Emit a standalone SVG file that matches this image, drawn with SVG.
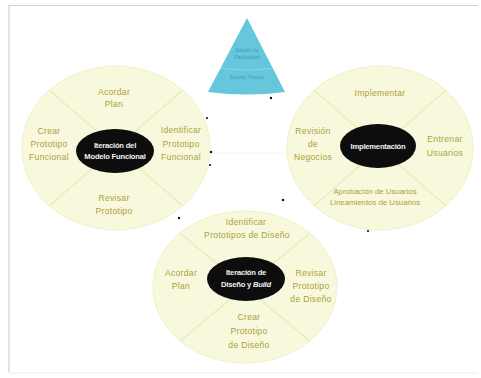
<svg xmlns="http://www.w3.org/2000/svg" width="481" height="378" viewBox="0 0 481 378">
  <style>
    .disc { fill: #f8f9dc; stroke: #eff1c8; stroke-width: 1; }
    .spoke { stroke: #e8ebbb; stroke-width: 1.2; fill: none; }
    .hub { fill: #0d0d0d; }
    .lbl { font-family: "Liberation Sans", Arial, sans-serif; font-size: 8.6px; fill: #ab9f40; text-anchor: middle; letter-spacing: 0.3px; }
    .hubt { font-family: "Liberation Sans", Arial, sans-serif; font-size: 7.6px; font-weight: bold; fill: #f2f2f2; text-anchor: middle; letter-spacing: -0.2px; }
    .pyr { font-family: "Liberation Sans", Arial, sans-serif; font-size: 4.8px; fill: #3b9fbd; text-anchor: middle; }
    .tip { fill: #111; }
  </style>

  <rect width="481" height="378" fill="#ffffff"/>
  <!-- page frame -->
  <path d="M9 372 V5.5 H478" fill="none" stroke="#d2d2d2" stroke-width="1.2"/>
  <path d="M9 373 H478" fill="none" stroke="#ececec" stroke-width="1"/>

  <!-- feasibility / business study pyramid -->
  <g id="piramide">
    <path d="M247 18 L285 92 Q247 97 208 92 Z" fill="#66c6dc"/>
    <path d="M221 68 Q247 72 273 68" fill="none" stroke="#8fd5e6" stroke-width="0.8"/>
    <text class="pyr" x="247" y="52">Estudio de</text>
    <text class="pyr" x="247" y="58.5">Factibilidad</text>
    <text class="pyr" x="247" y="79">Estudio Técnico</text>
  </g>

  <!-- functional model iteration -->
  <g id="modelo-funcional">
    <ellipse class="disc" cx="116" cy="148" rx="94" ry="82"/>
    <path class="spoke" d="M49 90 L183 206 M183 90 L49 206"/>
    <ellipse class="hub" cx="115" cy="151" rx="39" ry="22"/>
    <text class="hubt" x="115" y="148">Iteración del</text>
    <text class="hubt" x="115" y="159">Modelo Funcional</text>
    <text class="lbl" x="114" y="95">Acordar</text>
    <text class="lbl" x="114" y="107">Plan</text>
    <text class="lbl" x="49" y="134">Crear</text>
    <text class="lbl" x="49" y="147">Prototipo</text>
    <text class="lbl" x="49" y="160">Funcional</text>
    <text class="lbl" x="181" y="133">Identificar</text>
    <text class="lbl" x="181" y="147">Prototipo</text>
    <text class="lbl" x="181" y="160">Funcional</text>
    <text class="lbl" x="114" y="201">Revisar</text>
    <text class="lbl" x="114" y="214">Prototipo</text>
  </g>

  <!-- implementation -->
  <g id="implementacion">
    <ellipse class="disc" cx="380" cy="148" rx="93" ry="82"/>
    <path class="spoke" d="M314 90 L446 206 M446 90 L314 206"/>
    <ellipse class="hub" cx="378" cy="146" rx="38" ry="22"/>
    <text class="hubt" x="378" y="148.5">Implementación</text>
    <text class="lbl" x="380" y="96">Implementar</text>
    <text class="lbl" x="313" y="134">Revisión</text>
    <text class="lbl" x="313" y="147">de</text>
    <text class="lbl" x="313" y="160">Negocios</text>
    <text class="lbl" x="445" y="142">Entrenar</text>
    <text class="lbl" x="445" y="156">Usuarios</text>
    <text class="lbl" x="375" y="194" style="font-size:7.8px;letter-spacing:0">Aprobación de Usuarios</text>
    <text class="lbl" x="375" y="205" style="font-size:7.8px;letter-spacing:0">Lineamientos de Usuarios</text>
  </g>

  <!-- design and build iteration -->
  <g id="diseno-build">
    <ellipse class="disc" cx="245" cy="287" rx="92" ry="76"/>
    <path class="spoke" d="M180 233 L310 341 M310 233 L180 341"/>
    <ellipse class="hub" cx="246" cy="279" rx="39" ry="22"/>
    <text class="hubt" x="246" y="275">Iteración de</text>
    <text class="hubt" x="246" y="287">Diseño y <tspan font-style="italic">Build</tspan></text>
    <text class="lbl" x="246" y="225">Identificar</text>
    <text class="lbl" x="247" y="238">Prototipos de Diseño</text>
    <text class="lbl" x="181" y="276">Acordar</text>
    <text class="lbl" x="181" y="289">Plan</text>
    <text class="lbl" x="311" y="276">Revisar</text>
    <text class="lbl" x="311" y="289">Prototipo</text>
    <text class="lbl" x="311" y="302">de Diseño</text>
    <text class="lbl" x="249" y="320">Crear</text>
    <text class="lbl" x="249" y="334">Prototipo</text>
    <text class="lbl" x="249" y="348">de Diseño</text>
  </g>

  <!-- connectors: only their small arrow tips are drawn -->
  <g id="conectores">
    <path d="M212 153 H290" fill="none" stroke="#f3f3f3" stroke-width="1"/>
    <circle class="tip" cx="271" cy="98" r="1.2"/>
    <circle class="tip" cx="207" cy="118" r="1.1"/>
    <circle class="tip" cx="211" cy="152" r="1.2"/>
    <circle class="tip" cx="210" cy="165" r="1.1"/>
    <circle class="tip" cx="283" cy="200" r="1.2"/>
    <circle class="tip" cx="179" cy="218" r="1.2"/>
    <circle class="tip" cx="368" cy="231" r="1.1"/>
  </g>
</svg>
